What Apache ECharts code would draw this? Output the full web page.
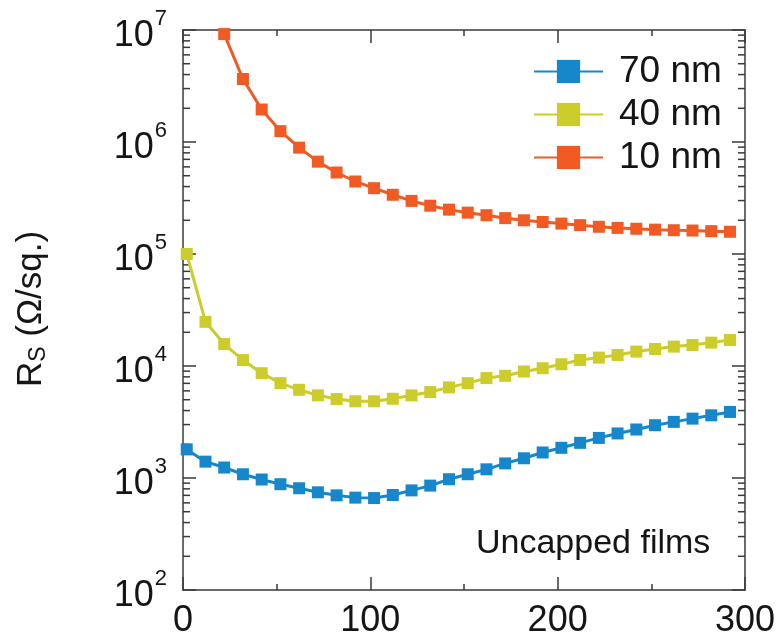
<!DOCTYPE html>
<html>
<head>
<meta charset="utf-8">
<script src="https://cdn.jsdelivr.net/npm/echarts@6/dist/echarts.min.js"></script>
<style>
  html, body { margin: 0; padding: 0; background: #fff; }
  #chart { width: 778px; height: 639px; }
</style>
</head>
<body>
<div id="chart"></div>
<script>
// Sheet resistance of uncapped films versus x, three thicknesses
const xValues = [2, 12, 22, 32, 42, 52, 62, 72, 82, 92, 102, 112, 122, 132, 142,
                 152, 162, 172, 182, 192, 202, 212, 222, 232, 242, 252, 262, 272, 282, 292];

const rs70nm = [1800, 1400, 1240, 1080, 970, 880, 810, 745, 700, 668, 662, 705, 775, 855, 975,
                1080, 1195, 1350, 1500, 1690, 1860, 2060, 2280, 2500, 2710, 2960, 3170, 3390, 3630, 3890];

const rs40nm = [100000, 24800, 15700, 11300, 8630, 7030, 6130, 5470, 5070, 4840, 4840, 5100, 5470, 5850, 6440,
                7030, 7800, 8170, 8930, 9550, 10370, 11320, 11880, 12550, 13450, 14190, 14900, 15390, 16170, 17060];

const rs10nm = [null, null, 9.2e6, 3.65e6, 1.95e6, 1.25e6, 8.9e5, 6.68e5, 5.34e5, 4.44e5, 3.87e5, 3.38e5, 2.98e5, 2.70e5, 2.49e5,
                2.34e5, 2.22e5, 2.09e5, 2.00e5, 1.93e5, 1.87e5, 1.81e5, 1.75e5, 1.71e5, 1.68e5, 1.65e5, 1.63e5, 1.62e5, 1.60e5, 1.58e5];

const seriesNames = ['70 nm', '40 nm', '10 nm'];
const seriesColors = ['#1787cc', '#cccc2a', '#f15a22'];

const xTickValues = [0, 100, 200, 300];
const yDecades = [1e2, 1e3, 1e4, 1e5, 1e6, 1e7];
const minorMultipliers = [2, 3, 4, 5, 6, 7, 8, 9];

// minor tick positions for the log axis (2..9 within each decade)
const minorTickValues = [];
yDecades.slice(0, -1).forEach(d => minorMultipliers.forEach(m => minorTickValues.push(m * d)));

const FONT = '"Liberation Sans", Arial, Helvetica, sans-serif';
const AXIS_COLOR = '#3a3a3a';
const TEXT_COLOR = '#151515';

const pairs = (ys) => xValues.map((x, i) => [x, ys[i]]);

const chart = echarts.init(document.getElementById('chart'), null, { renderer: 'canvas' });

const xAxisBase = {
  type: 'value',
  min: xTickValues[0],
  max: xTickValues[xTickValues.length - 1],
  interval: 100,
  axisLine: { show: true, onZero: false, lineStyle: { color: AXIS_COLOR, width: 1.5 } },
  axisTick: { show: true, inside: true, length: 13, lineStyle: { color: AXIS_COLOR, width: 1.5 } },
  minorTick: { show: true, splitNumber: 2, length: 6, lineStyle: { color: AXIS_COLOR, width: 1.5 } },
  splitLine: { show: false },
  minorSplitLine: { show: false }
};

const yAxisBase = {
  type: 'log',
  logBase: 10,
  min: yDecades[0],
  max: yDecades[yDecades.length - 1],
  axisLine: { show: true, onZero: false, lineStyle: { color: AXIS_COLOR, width: 1.5 } },
  axisTick: { show: true, inside: true, length: 13, lineStyle: { color: AXIS_COLOR, width: 1.5 } },
  splitLine: { show: false }
};

const lineSeries = [rs70nm, rs40nm, rs10nm].map((ys, i) => ({
  name: seriesNames[i],
  type: 'line',
  data: pairs(ys),
  symbol: 'rect',
  symbolSize: 12,
  color: seriesColors[i],
  lineStyle: { width: 3, color: seriesColors[i] },
  itemStyle: { color: seriesColors[i] },
  connectNulls: false,
  z: 3 + i
}));

const option = {
  animation: false,
  backgroundColor: '#fff',
  textStyle: { fontFamily: FONT },
  grid: { left: 183, right: 33, top: 30, bottom: 46, containLabel: false },
  legend: {
    data: seriesNames,
    orient: 'vertical',
    left: 533,
    top: 53,
    padding: 0,
    itemWidth: 69,
    itemHeight: 29,
    itemGap: 6,
    selectedMode: false,
    formatter: '{t|{name}}',
    textStyle: {
      fontFamily: FONT,
      fontSize: 37,
      color: TEXT_COLOR,
      rich: {
        t: { fontSize: 37, fontFamily: FONT, color: TEXT_COLOR, lineHeight: 31, padding: [0, 0, 0, 11] }
      }
    }
  },
  xAxis: [
    Object.assign({}, xAxisBase, {
      position: 'bottom',
      axisLabel: { show: true, margin: 13, fontSize: 36, fontFamily: FONT, color: TEXT_COLOR }
    }),
    Object.assign({}, xAxisBase, {
      position: 'top',
      axisLabel: { show: false }
    })
  ],
  yAxis: [
    Object.assign({}, yAxisBase, {
      position: 'left',
      axisLabel: {
        show: true,
        margin: 16,
        formatter: (v) => '{b|10}{e|' + Math.round(Math.log10(v)) + '}',
        rich: {
          b: { fontSize: 36, fontFamily: FONT, color: TEXT_COLOR, lineHeight: 36, padding: [12, 0, 0, 0] },
          e: { fontSize: 22, fontFamily: FONT, color: TEXT_COLOR, lineHeight: 22, padding: [0, 0, 22, 1] }
        }
      }
    }),
    Object.assign({}, yAxisBase, {
      position: 'right',
      axisLabel: { show: false }
    })
  ],
  graphic: [
    {
      type: 'text',
      x: 31,
      y: 309,
      rotation: Math.PI / 2,
      style: {
        text: '{r|R}{s|S}{r| (Ω/sq.)}',
        align: 'center',
        verticalAlign: 'middle',
        rich: {
          r: { fontSize: 35, fontFamily: FONT, fill: TEXT_COLOR, lineHeight: 40 },
          s: { fontSize: 23, fontFamily: FONT, fill: TEXT_COLOR, lineHeight: 23, padding: [16, 0, 0, 0] }
        }
      }
    },
    {
      type: 'text',
      left: 476,
      top: 527,
      style: {
        text: 'Uncapped films',
        fontSize: 34,
        fontFamily: FONT,
        fill: TEXT_COLOR
      }
    }
  ],
  series: lineSeries.concat([
    {
      // minor ticks on the left and right log axes
      type: 'custom',
      name: 'minorTicks',
      silent: true,
      clip: false,
      xAxisIndex: 0,
      yAxisIndex: 0,
      encode: { x: 0, y: 1 },
      data: minorTickValues.map(v => [xTickValues[0], v]),
      renderItem: (params, api) => {
        const v = api.value(1);
        const pL = api.coord([xTickValues[0], v]);
        const pR = api.coord([xTickValues[xTickValues.length - 1], v]);
        const style = { stroke: AXIS_COLOR, lineWidth: 1.5 };
        return {
          type: 'group',
          children: [
            { type: 'line', shape: { x1: pL[0], y1: pL[1], x2: pL[0] + 7, y2: pL[1] }, style },
            { type: 'line', shape: { x1: pR[0] - 7, y1: pR[1], x2: pR[0], y2: pR[1] }, style }
          ]
        };
      },
      z: 1
    }
  ])
};

chart.setOption(option);
</script>
</body>
</html>
